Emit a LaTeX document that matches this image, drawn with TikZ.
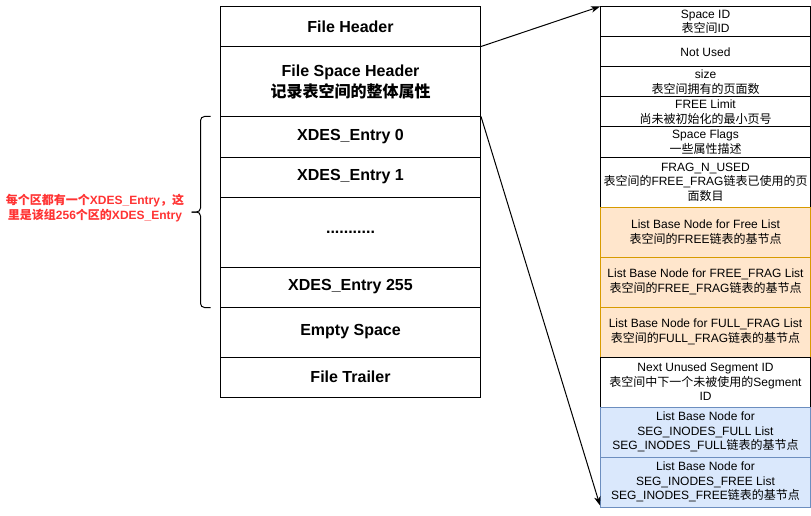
\documentclass[tikz,border=0pt]{standalone}
\usepackage{fontspec}
\setmainfont{Liberation Sans}
\newfontfamily\cjkfont{Noto Sans CJK SC}
\newcommand\zh[1]{{\cjkfont #1}}
\usetikzlibrary{arrows.meta,calc}
\definecolor{orfill}{HTML}{FFE6CC}
\definecolor{ordraw}{HTML}{D79B00}
\definecolor{blfill}{HTML}{DAE8FC}
\definecolor{bldraw}{HTML}{6C8EBF}
\definecolor{notered}{HTML}{FF3333}
\begin{document}
\begin{tikzpicture}[x=1pt,y=-1pt,line width=1pt,
  lbox/.style={draw, fill=white, minimum width=260pt, inner sep=0pt, align=center,
    font=\fontsize{16}{21}\selectfont\bfseries},
  rbox/.style={draw, fill=white, minimum width=210pt, inner sep=0pt, align=center,
    font=\fontsize{12}{14.4}\selectfont},
  orbox/.style={rbox, fill=orfill, draw=ordraw},
  blbox/.style={rbox, fill=blfill, draw=bldraw},
  arr/.style={-{Stealth[length=9pt,width=6.5pt,inset=2.5pt]}},
  notetext/.style={text=notered, align=center, inner sep=0pt,
    font=\fontsize{12}{15}\selectfont\bfseries}]
\useasboundingbox (0,0) rectangle (811,516);

% left column
\node[lbox, minimum height=40pt] (fh)   at (350.5,27)  {File Header};
\node[lbox, minimum height=70pt] (fsh)  at (350.5,82)  {File Space Header\\\zh{记录表空间的整体属性}};
\node[lbox, minimum height=40pt] (x0)   at (350.5,137) {XDES\_Entry 0};
\node[lbox, minimum height=40pt] (x1)   at (350.5,177) {XDES\_Entry 1};
\node[lbox, minimum height=70pt] (dots) at (350.5,232) {...........};
\node[lbox, minimum height=40pt] (x255) at (350.5,287) {XDES\_Entry 255};
\node[lbox, minimum height=50pt] (es)   at (350.5,332) {Empty Space};
\node[lbox, minimum height=40pt] (ft)   at (350.5,377) {File Trailer};

% right column
\node[rbox, minimum height=30pt] (sid)  at (705.5,22)  {Space ID\\\zh{表空间}ID};
\node[rbox, minimum height=30pt] (nu)   at (705.5,52)  {Not Used};
\node[rbox, minimum height=30pt] (sz)   at (705.5,82)  {size\\\zh{表空间拥有的页面数}};
\node[rbox, minimum height=30pt] (fl)   at (705.5,112) {FREE Limit\\\zh{尚未被初始化的最小页号}};
\node[rbox, minimum height=30pt] (sf)   at (705.5,142) {Space Flags\\\zh{一些属性描述}};
\node[rbox, minimum height=50pt] (fn)   at (705.5,182) {FRAG\_N\_USED\\\zh{表空间的}FREE\_FRAG\zh{链表已使用的页}\\\zh{面数目}};
\node[orbox, minimum height=50pt] (ff)  at (705.5,232) {List Base Node for Free List\\\zh{表空间的}FREE\zh{链表的基节点}};
\node[orbox, minimum height=50pt] (ffr) at (705.5,282) {List Base Node for FREE\_FRAG List\\\zh{表空间的}FREE\_FRAG\zh{链表的基节点}};
\node[orbox, minimum height=50pt] (fuf) at (705.5,332) {List Base Node for FULL\_FRAG List\\\zh{表空间的}FULL\_FRAG\zh{链表的基节点}};
\node[rbox, minimum height=50pt] (nus)  at (705.5,382) {Next Unused Segment ID\\\zh{表空间中下一个未被使用的}Segment\\ID};
\node[blbox, minimum height=50pt] (sif) at (705.5,432) {List Base Node for\\SEG\_INODES\_FULL List\\SEG\_INODES\_FULL\zh{链表的基节点}};
\node[blbox, minimum height=50pt] (sifr) at (705.5,482) {List Base Node for\\SEG\_INODES\_FREE List\\SEG\_INODES\_FREE\zh{链表的基节点}};

% connectors
\draw[arr] (fsh.north east) -- (sid.north west);
\draw[arr] (x0.north east) -- ($(sifr.south west)+(0,-2)$);

% brace
\coordinate (bt) at ($(x0.north west)+(-9.5,0)$);
\coordinate (bb) at ($(x255.south west)+(-9.5,0)$);
\coordinate (bm) at ($(bt)!0.5!(bb)$);
\draw[rounded corners=4pt] (bt) -- ++(-10,0) -- ($(bm)+(-10,0)$) -- ($(bm)+(-19,0)$);
\draw[rounded corners=4pt] ($(bm)+(-19,0)$) -- ($(bm)+(-10,0)$) -- ($(bb)+(-10,0)$) -- (bb);

% note
\node[notetext] (note) at (95,208) {\zh{每个区都有一个}XDES\_Entry\zh{，这}\\\zh{里是该组}256\zh{个区的}XDES\_Entry};
\end{tikzpicture}
\end{document}
